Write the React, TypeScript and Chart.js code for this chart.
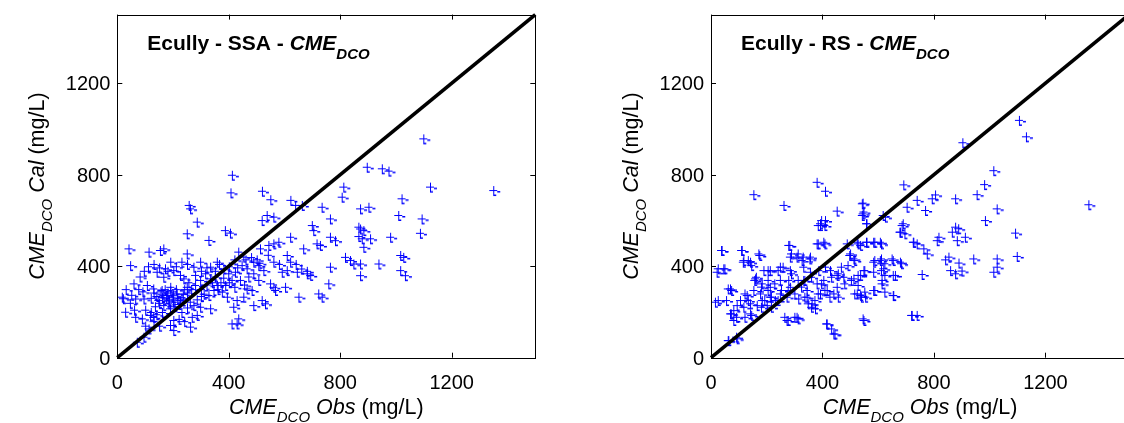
import React, { useEffect, useRef } from 'react';
import { Chart, registerables } from 'chart.js';
Chart.register(...registerables);

const tickValues = [0, 400, 800, 1200];
const tickLabels = ['0', '400', '800', '1200'];
const axisMin = 0;
const axisMax = 1500;
const diagonal = [[0, 0], [1500, 1500]];

// Ecully - SSA : [observed, calculated]
const ssaPairs: [number, number][] = [
  [1098,959],[895,835],[949,828],[973,818],[811,748],[805,704],[1122,748],[1349,733],[1020,697],[733,660],
  [871,653],[901,660],[763,609],[1008,624],[1092,609],[763,529],[781,514],[865,573],[871,565],[883,558],
  [865,532],[877,522],[907,522],[883,485],[979,529],[1086,546],[727,493],[817,441],[835,427],[847,412],
  [871,412],[937,412],[1015,449],[1026,441],[1015,383],[1032,361],[763,398],[757,325],[871,361],[733,267],
  [411,800],[406,723],[519,730],[549,693],[621,690],[256,668],[638,668],[662,668],[261,653],[536,624],
  [560,617],[518,602],[285,595],[386,558],[404,547],[249,544],[327,515],[40,478],[112,464],[153,471],
  [165,478],[249,456],[46,405],[698,580],[703,558],[620,529],[667,478],[715,500],[608,449],[560,500],
  [578,507],[542,493],[512,478],[434,464],[452,442],[721,281],[650,267],[602,310],[590,376],[608,383],
  [644,376],[680,369],[692,362],[560,310],[566,296],[548,325],[530,238],[518,252],[488,230],[416,223],
  [434,172],[410,150],[428,150],[261,136],[201,121],[112,128],[94,92],[70,70],[28,201],[64,179],
  [88,172],[117,187],[129,179],[201,165],[189,143],[267,179],[285,187],[333,216],[297,223],[273,230],
  [16,267],[64,259],[94,259],[58,325],[106,318],[129,303],[141,376],[171,391],[201,383],[225,362],
  [237,347],[165,354],[159,296],[177,274],[195,267],[213,281],[225,252],[183,238],[165,230],[147,252],
  [189,216],[249,310],[279,318],[297,340],[273,398],[297,420],[333,398],[357,420],[381,391],[398,369],
  [422,376],[446,405],[464,391],[488,420],[506,405],[524,383],[488,369],[506,340],[464,303],[482,296],
  [452,267],[428,252],[393,267],[375,289],[345,296],[327,274],[357,318],[387,318],[410,340],[333,347],
  [315,369],[279,362],[155,290],[165,275],[170,300],[180,285],[190,295],[200,275],[210,300],[175,260],
  [160,265],[185,250],[200,245],[215,260],[150,240],[140,270],[130,285],[205,225],[220,235],[235,280],
  [240,300],[120,262],[135,225],[190,310],[230,265],[250,285],[255,330],[265,300],[300,300],[310,280],
  [320,320],[340,330],[350,355],[360,300],[370,330],[380,350],[400,330],[420,310],[440,340],[455,320],
  [470,355],[300,380],[320,395],[350,380],[365,410],[400,400],[420,430],[430,395],[460,430],[480,440],
  [500,430],[510,415],[540,450],[560,420],[580,410],[620,420],[640,410],[660,390],[680,380],[250,410],
  [230,420],[210,400],[190,420],[180,380],[150,395],[130,410],[110,400],[95,380],[80,355],[75,300],
  [90,290],[50,275],[30,300],[20,260],[45,240],[60,210],[100,210],[120,200],[140,190],[160,200],
  [230,200],[250,220],[260,245],[285,255],[300,270],[220,170],[240,160],[150,140],[130,160],[100,140],
];

// Ecully - RS : [observed, calculated]
const rsPairs: [number, number][] = [
  [1105,1040],[1130,968],[902,942],[1013,820],[980,759],[953,715],[690,758],[379,769],[409,730],[152,715],
  [804,714],[792,697],[738,690],[876,697],[768,646],[1025,653],[983,602],[1354,671],[876,573],[887,566],
  [864,551],[882,514],[911,529],[816,529],[810,514],[762,478],[774,456],[738,500],[1091,547],[1097,445],
  [941,434],[1025,434],[840,430],[852,442],[888,416],[858,383],[876,369],[899,381],[1013,376],[1025,398],
  [756,366],[738,187],[260,668],[451,643],[541,675],[547,639],[541,624],[391,588],[409,602],[558,588],
  [624,617],[684,580],[678,551],[726,507],[702,660],[38,471],[110,471],[170,456],[116,427],[140,420],
  [20,376],[44,391],[68,303],[14,245],[104,252],[128,274],[68,194],[80,165],[140,194],[62,77],
  [92,85],[271,165],[307,179],[415,150],[439,106],[547,165],[720,187],[654,274],[612,325],[582,296],
  [535,274],[553,267],[523,281],[487,500],[523,507],[558,507],[582,507],[606,507],[535,493],[499,456],
  [511,434],[582,420],[606,427],[648,434],[678,420],[618,391],[660,362],[612,340],[582,376],[547,383],
  [535,362],[511,347],[475,354],[451,362],[427,383],[409,398],[385,383],[355,376],[331,398],[307,442],
  [325,427],[355,442],[283,442],[283,383],[247,398],[211,383],[188,383],[158,347],[182,325],[211,310],
  [247,340],[277,340],[283,310],[247,281],[211,267],[182,252],[164,230],[200,230],[229,252],[152,296],
  [176,281],[92,230],[80,208],[116,223],[140,238],[343,296],[343,267],[361,238],[373,216],[391,281],
  [415,296],[439,281],[451,310],[379,325],[331,340],[403,340],[313,259],[271,267],[391,580],[379,500],
  [403,507],[277,493],[544,678],[544,631],[395,602],[407,580],[383,580],[556,588],[616,624],[688,588],
  [676,551],[694,544],[724,507],[281,493],[287,456],[311,456],[329,442],[353,434],[383,500],[407,500],
  [36,471],[108,471],[114,420],[132,427],[144,405],[173,449],[24,391],[48,391],[526,500],[556,507],
  [586,507],[610,500],[496,449],[514,427],[586,427],[610,434],[622,413],[652,427],[682,413],[610,383],
  [622,362],[652,362],[550,383],[526,362],[502,340],[526,318],[514,281],[538,267],[550,289],[586,296],
  [622,289],[652,274],[544,172],[413,150],[431,128],[443,106],[718,187],[60,303],[72,296],[24,252],
  [54,252],[120,281],[132,252],[72,194],[90,179],[120,179],[144,187],[60,77],[90,92],[179,311],
  [203,296],[215,267],[191,252],[179,223],[215,223],[239,252],[251,296],[227,325],[203,340],[155,340],
  [161,354],[203,383],[239,383],[257,398],[287,369],[311,340],[335,340],[359,354],[275,296],[299,281],
  [323,311],[335,267],[347,238],[359,223],[371,252],[383,281],[263,179],[275,165],[299,179],[311,172],
  [431,354],[455,369],[478,325],[395,325],[407,296],[425,267],[455,267],[466,398],[490,405],
];

const FONT = 'Arial, "Liberation Sans", Helvetica, sans-serif';

type Seg = { text: string; font: string; dy: number };

function drawRich(ctx: CanvasRenderingContext2D, segs: Seg[], x: number, y: number, align: 'left' | 'center') {
  let total = 0;
  const widths = segs.map((s) => {
    ctx.font = s.font;
    const w = ctx.measureText(s.text).width;
    total += w;
    return w;
  });
  let cx = align === 'center' ? x - total / 2 : x;
  ctx.textAlign = 'left';
  ctx.textBaseline = 'alphabetic';
  segs.forEach((s, i) => {
    ctx.font = s.font;
    ctx.fillText(s.text, cx, y + s.dy);
    cx += widths[i];
  });
}

function makeMarker(): HTMLCanvasElement {
  const c = document.createElement('canvas');
  c.width = 16;
  c.height = 16;
  const g = c.getContext('2d')!;
  g.fillStyle = '#0000ff';
  g.fillRect(4, 8, 8, 1);
  g.fillRect(8, 4, 1, 9);
  g.fillRect(12, 9, 3, 1.5);
  g.fillRect(8, 12.5, 3, 1.5);
  return c;
}

interface PanelProps {
  pairs: [number, number][];
  site: string;
  left: number;
  width: number;
  plotLeft: number;
}

const H = 423;
const PLOT_W = 418;
const PLOT_TOP = 14.6;
const PLOT_BOTTOM = 357.7;

function Panel({ pairs, site, left, width, plotLeft }: PanelProps) {
  const ref = useRef<HTMLCanvasElement>(null);
  useEffect(() => {
    const canvas = ref.current!;
    const marker = makeMarker();
    const plotRight = plotLeft + PLOT_W;
    const decor = {
      id: 'decor',
      afterDraw(chart: any) {
        const ctx = chart.ctx as CanvasRenderingContext2D;
        const a = chart.chartArea;
        const xs = chart.scales.x;
        const ys = chart.scales.y;
        ctx.save();
        ctx.strokeStyle = '#000';
        ctx.lineWidth = 1;
        ctx.strokeRect(Math.round(a.left) + 0.5, Math.round(a.top) + 0.5, Math.round(a.right - a.left), Math.round(a.bottom - a.top));
        const tl = 5;
        ctx.beginPath();
        tickValues.forEach((v) => {
          const px = Math.round(xs.getPixelForValue(v)) + 0.5;
          const py = Math.round(ys.getPixelForValue(v)) + 0.5;
          ctx.moveTo(px, a.bottom);
          ctx.lineTo(px, a.bottom - tl);
          ctx.moveTo(px, a.top);
          ctx.lineTo(px, a.top + tl);
          ctx.moveTo(a.left, py);
          ctx.lineTo(a.left + tl, py);
          ctx.moveTo(a.right, py);
          ctx.lineTo(a.right - tl, py);
        });
        ctx.stroke();
        ctx.fillStyle = '#000';
        ctx.font = `20px ${FONT}`;
        tickValues.forEach((v, i) => {
          const px = xs.getPixelForValue(v);
          const py = ys.getPixelForValue(v);
          ctx.textAlign = 'center';
          ctx.textBaseline = 'alphabetic';
          ctx.fillText(tickLabels[i], px, a.bottom + 31);
          ctx.textAlign = 'right';
          ctx.fillText(tickLabels[i], a.left - 7, py + 7);
        });
        // x axis title
        drawRich(
          ctx,
          [
            { text: 'CME', font: `italic 21.5px ${FONT}`, dy: 0 },
            { text: 'DCO', font: `italic 15px ${FONT}`, dy: 8 },
            { text: ' Obs', font: `italic 21.5px ${FONT}`, dy: 0 },
            { text: ' (mg/L)', font: `21.5px ${FONT}`, dy: 0 },
          ],
          (a.left + a.right) / 2,
          414,
          'center'
        );
        // y axis title
        ctx.save();
        ctx.translate(a.left - 73, (a.top + a.bottom) / 2);
        ctx.rotate(-Math.PI / 2);
        drawRich(
          ctx,
          [
            { text: 'CME', font: `italic 21.5px ${FONT}`, dy: 0 },
            { text: 'DCO', font: `italic 15px ${FONT}`, dy: 8 },
            { text: ' Cal', font: `italic 21.5px ${FONT}`, dy: 0 },
            { text: ' (mg/L)', font: `21.5px ${FONT}`, dy: 0 },
          ],
          0,
          0,
          'center'
        );
        ctx.restore();
        // panel title
        drawRich(
          ctx,
          [
            { text: `Ecully - ${site} - `, font: `bold 21px ${FONT}`, dy: 0 },
            { text: 'CME', font: `italic bold 21px ${FONT}`, dy: 0 },
            { text: 'DCO', font: `italic bold 15px ${FONT}`, dy: 9 },
          ],
          a.left + 30,
          50,
          'left'
        );
        ctx.restore();
      },
    };
    const chart = new Chart(canvas, {
      type: 'scatter',
      data: {
        datasets: [
          {
            type: 'line',
            data: diagonal.map(([x, y]) => ({ x, y })),
            borderColor: '#000',
            borderWidth: 3.6,
            pointRadius: 0,
            order: 0,
            clip: false as any,
          } as any,
          {
            type: 'scatter',
            data: pairs.map(([x, y]) => ({ x, y })),
            pointStyle: marker as any,
            pointRadius: 4,
            order: 1,
          } as any,
        ],
      },
      options: {
        responsive: false,
        maintainAspectRatio: false,
        animation: false,
        events: [],
        layout: { padding: { left: 0, right: width - plotRight, top: PLOT_TOP, bottom: 0 } },
        plugins: { legend: { display: false }, tooltip: { enabled: false } },
        scales: {
          x: {
            type: 'linear',
            min: axisMin,
            max: axisMax,
            grid: { display: false, drawTicks: false },
            border: { display: false },
            ticks: { display: false },
            afterFit: (s: any) => {
              s.height = H - PLOT_BOTTOM;
            },
          },
          y: {
            type: 'linear',
            min: axisMin,
            max: axisMax,
            grid: { display: false, drawTicks: false },
            border: { display: false },
            ticks: { display: false },
            afterFit: (s: any) => {
              s.width = plotLeft;
            },
          },
        },
      },
      plugins: [decor],
    });
    return () => chart.destroy();
  }, [pairs, site, width, plotLeft]);
  return (
    <canvas
      ref={ref}
      width={width}
      height={H}
      style={{ position: 'absolute', left, top: 0, width, height: H }}
    />
  );
}

export default function App() {
  return (
    <div
      style={{
        position: 'absolute',
        left: 0,
        top: 0,
        width: 1124,
        height: H,
        overflow: 'hidden',
        background: '#fff',
      }}
    >
      <Panel pairs={ssaPairs} site="SSA" left={0} width={562} plotLeft={117.3} />
      <Panel pairs={rsPairs} site="RS" left={562} width={600} plotLeft={149} />
    </div>
  );
}
